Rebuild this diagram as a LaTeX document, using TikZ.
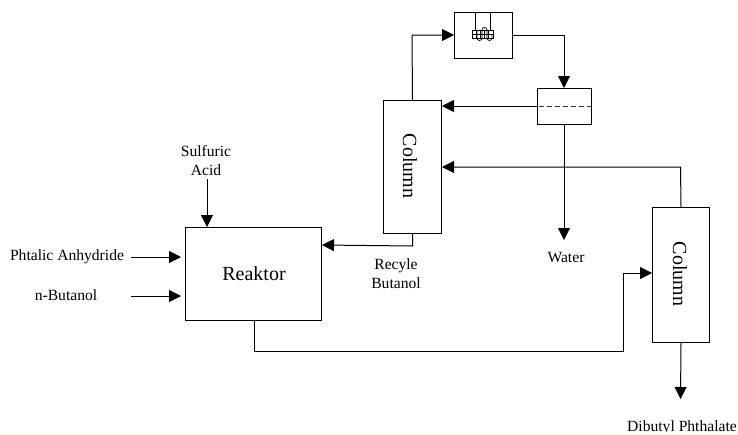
\documentclass[tikz,border=0pt]{standalone}
\usepackage{fontspec}
\setmainfont{Liberation Serif}
\usetikzlibrary{arrows.meta}
\tikzset{
  box/.style={draw=black,line width=1pt,minimum width=0pt,inner sep=0pt,anchor=north west},
  flow/.style={draw=black,line width=1pt,-{Triangle[length=12pt,width=12pt]}},
  lbl/.style={font=\fontsize{15.6}{19}\selectfont,align=center,inner sep=0pt},
  big/.style={font=\fontsize{20}{24}\selectfont,inner sep=0pt},
  thin/.style={draw=black,line width=0.7pt}
}
\begin{document}
\begin{tikzpicture}[x=1pt,y=-1pt]
\useasboundingbox (0,0) rectangle (738,434);
\node[box,minimum width=136pt,minimum height=93pt] (reaktor) at (185,227) {};
\node[big] at (254,274) {Reaktor};
\node[box,minimum width=58pt,minimum height=133pt] (col1) at (383,100) {};
\node[big,rotate=-90] at (410,166) {Column};
\node[box,minimum width=57pt,minimum height=135pt] (col2) at (652,207) {};
\node[big,rotate=-90] at (680,274) {Column};
\node[box,minimum width=58pt,minimum height=46pt] (cond) at (454,12) {};
\node[box,minimum width=54pt,minimum height=36pt] (sep) at (537,88) {};
% condenser coil
\draw[thin] (475.7,12) -- (475.7,30) (490,12) -- (490,30);
\draw[thin] (472.5,30) rectangle (493,38.5);
\foreach \x in {476,480,484,488} \draw[thin] (\x,30) -- (\x,38.5);
\draw[thin] (472.5,34.2) -- (493,34.2);
\draw[thin] (477,30) -- (477,38) arc[start angle=180,end angle=360,radius=2.5pt] -- (482,30)
  arc[start angle=180,end angle=0,radius=2.5pt] -- (487,38) arc[start angle=180,end angle=360,radius=2.5pt] -- (492,34);
% separator dashed level
\draw[draw=black!80,line width=0.8pt,dash pattern=on 5pt off 3pt] (539,106) -- (591,106);
% inputs
\node[lbl] (pa) at (67,257) {Phtalic Anhydride};
\node[lbl] (nb) at (66,295.5) {n-Butanol};
\node[lbl] (sa) at (206,161) {Sulfuric\\Acid};
\node[lbl] (rb) at (396,274) {Recyle\\Butanol};
\node[lbl] (wa) at (566,258) {Water};
\begin{scope}
\clip (0,0) rectangle (738,431.5);
\node[lbl,anchor=base] (dp) at (682,431) {Dibutyl Phthalate};
\end{scope}
\coordinate (paend) at (181,257);
\coordinate (nbend) at (181,296);
\coordinate (paS) at (131,257);
\coordinate (nbS) at (131,296);
\draw[flow] (paS) -- (paend);
\draw[flow] (nbS) -- (nbend);
\coordinate (saS) at (207,179);
\draw[flow] (saS) -- (saS |- reaktor.north);
% connectors
\draw[flow] (col1.south) -- ++(0,12) -- (reaktor.east |- 0,245);
\draw[flow] (254,320) -- (254,351) -- (623,351) -- (623,273) -- (col2.west |- 0,273);
\draw[flow] (col1.north) -- (412,35) -- (cond.west |- 0,35);
\draw[flow] (cond.east |- 0,35) -- (564,35) -- (564,88);
\draw[flow] (sep.west |- 0,106) -- (col1.east |- 0,106);
\draw[flow] (564,124) -- (564,240);
\draw[flow] (col2.north) -- (680.5,167) -- (col1.east |- 0,167);
\draw[flow] (col2.south) -- (680.5,399);
\end{tikzpicture}
\end{document}
